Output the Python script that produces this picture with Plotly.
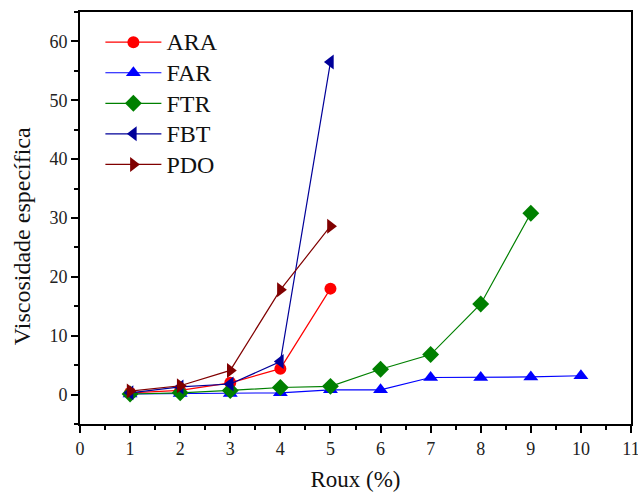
import plotly.graph_objects as go

x_ara = [1, 2, 3, 4, 5]
y_ara = [0.3, 0.7, 2.0, 4.4, 18.0]
x_far = [1, 2, 3, 4, 5, 6, 7, 8, 9, 10]
y_far = [0.1, 0.2, 0.2, 0.3, 0.8, 0.8, 2.9, 2.9, 3.0, 3.2]
x_ftr = [1, 2, 3, 4, 5, 6, 7, 8, 9]
y_ftr = [0.1, 0.3, 0.7, 1.2, 1.4, 4.3, 6.8, 15.4, 30.8]
x_fbt = [1, 2, 3, 4, 5]
y_fbt = [0.3, 1.3, 1.8, 5.6, 56.5]
x_pdo = [1, 2, 3, 4, 5]
y_pdo = [0.6, 1.5, 4.1, 17.8, 28.6]

series = [
    ("ARA", x_ara, y_ara, "#FF0000", "circle", 12),
    ("FAR", x_far, y_far, "#0000FF", "triangle-up", 13),
    ("FTR", x_ftr, y_ftr, "#008000", "diamond", 13),
    ("FBT", x_fbt, y_fbt, "#000099", "triangle-left", 13),
    ("PDO", x_pdo, y_pdo, "#800000", "triangle-right", 13),
]

fig = go.Figure()
for name, xs, ys, col, sym, sz in series:
    fig.add_trace(go.Scatter(
        x=xs, y=ys, name='<span style="font-size:24px">' + name + '</span>',
        mode="lines+markers",
        line=dict(color=col, width=1.2),
        marker=dict(color=col, symbol=sym, size=sz, line=dict(width=0)),
    ))

font_family = "Times New Roman"
axis_common = dict(
    showline=True, linecolor="black", linewidth=2, mirror=True,
    ticks="outside", tickcolor="black", tickwidth=2, ticklen=7,
    showgrid=False, zeroline=False, automargin=False,
    ticklabeloverflow="allow",
    tickfont=dict(family=font_family, size=18, color="#222"),
)

fig.update_layout(
    width=638, height=492,
    margin=dict(l=80, r=7, t=12, b=68),
    paper_bgcolor="white", plot_bgcolor="white",
    font=dict(family=font_family, color="#111"),
    showlegend=True,
    legend=dict(
        x=0.037, y=0.976, xanchor="left", yanchor="top",
        font=dict(family=font_family, size=21.2, color="#111"),
        bgcolor="rgba(0,0,0,0)", itemwidth=56, tracegroupgap=0,
    ),
    xaxis=dict(
        range=[0, 11], dtick=1, tick0=0,
        minor=dict(ticks="outside", ticklen=4, tickwidth=1.5, tickcolor="black", dtick=0.5),
        title=dict(text="Roux (%)", font=dict(family=font_family, size=23, color="#111"), standoff=14),
        **axis_common,
    ),
    yaxis=dict(
        range=[-5, 65], dtick=10, tick0=0,
        minor=dict(ticks="outside", ticklen=4, tickwidth=1.5, tickcolor="black", dtick=5),
        **axis_common,
    ),
    annotations=[dict(
        text="Viscosidade específica", textangle=-90,
        xref="paper", yref="paper", x=0, y=0.456, xshift=-58,
        xanchor="center", yanchor="middle", showarrow=False,
        font=dict(family=font_family, size=24, color="#111"),
    )],
)

fig.write_html("out.html")
